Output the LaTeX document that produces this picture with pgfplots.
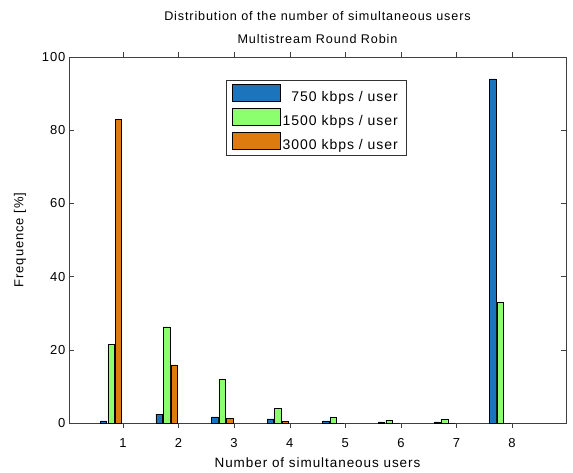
\documentclass[border=0pt]{standalone}
\usepackage{pgfplots}
\pgfplotsset{compat=1.18}
\usepackage{fontspec}
\setmainfont[LetterSpace=7]{Liberation Sans}

\definecolor{mblue}{RGB}{28,117,188}
\definecolor{mgreen}{RGB}{140,255,110}
\definecolor{morange}{RGB}{222,123,14}

\begin{document}
\begin{tikzpicture}
\begin{axis}[
    scale only axis,
    width=497pt, height=366pt,
    xmin=0.03, xmax=8.97, ymin=0, ymax=100,
    xtick={1,...,8}, ytick={0,20,...,100},
    tick align=inside, tick pos=both,
    major tick length=5pt,
    axis line style={black!75},
    every tick/.style={black!75},
    font=\fontsize{13}{16}\selectfont,
    /pgf/number format/assume math mode=true,
    title={Distribution of the number of simultaneous users\\[8pt]Multistream Round Robin},
    title style={align=center, yshift=4pt, font=\fontsize{12.6}{15}\selectfont},
    xticklabel style={anchor=base, yshift=-19pt},
    xlabel={Number of simultaneous users},
    xlabel style={at={(rel axis cs:0.5,0)}, anchor=base, yshift=-44pt,
        font=\fontsize{13.5}{16}\selectfont},
    ylabel={Frequence [\%]},
    ylabel style={at={([xshift=-49pt]rel axis cs:0,0.5)}, anchor=center},
    ybar, bar width=0.115,
    legend style={at={(0.316,0.936)}, anchor=north west,
        draw=black!80, row sep=3pt, inner xsep=6pt, inner ysep=3pt,
        font=\fontsize{14}{16}\selectfont},
    legend cell align=right,
    legend image code/.code={\draw[#1] (0pt,-4pt) rectangle (48pt,13pt);},
]
\addplot[draw=black, fill=mblue, bar shift=-0.35] coordinates
    {(1,0.6) (2,2.4) (3,1.7) (4,1.1) (5,0.6) (6,0.3) (7,0.3) (8,94)};
\addplot[draw=black, fill=mgreen, bar shift=-0.215] coordinates
    {(1,21.5) (2,26.3) (3,11.9) (4,4.0) (5,1.6) (6,0.7) (7,1.0) (8,33)};
\addplot[draw=black, fill=morange, bar shift=-0.08] coordinates
    {(1,83) (2,15.9) (3,1.3) (4,0.4) (5,0) (6,0) (7,0) (8,0)};
\legend{750 kbps / user, 1500 kbps / user, 3000 kbps / user}
\coordinate (sw) at (rel axis cs:0,0);
\end{axis}
\pgfresetboundingbox
\path (sw) ++(-69pt,-49pt) rectangle ++(573pt,472pt);
\end{tikzpicture}
\end{document}
